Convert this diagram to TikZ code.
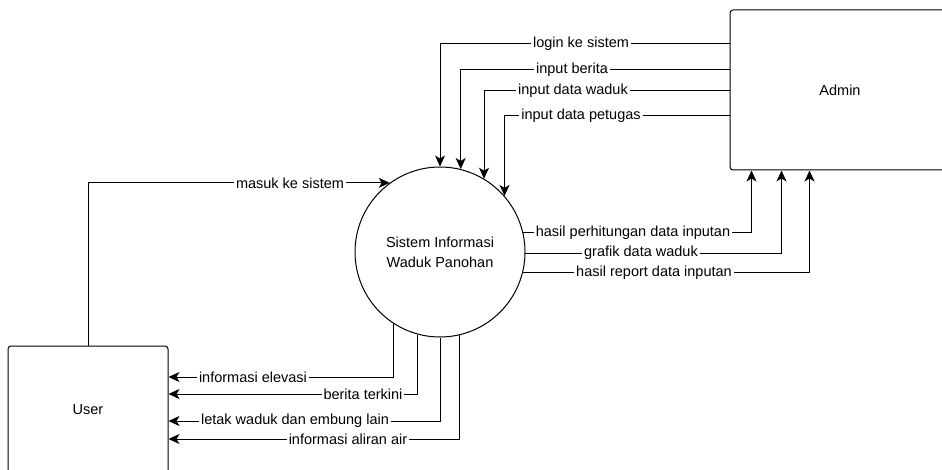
\documentclass[tikz,border=0pt]{standalone}
\usepackage{fontspec}
\setmainfont{Liberation Sans}
\usetikzlibrary{arrows.meta}
\begin{document}
\begin{tikzpicture}[x=1pt,y=-1pt,
  every node/.style={font=\fontsize{14.5}{20}\selectfont},
  flow/.style={draw, line width=1pt, -{Stealth[length=11pt,width=10pt,inset=3pt]}},
  lbl/.style={fill=white, inner xsep=2pt, inner ysep=1pt},
  entity/.style={draw, line width=1pt, rounded corners=3pt, align=center},
  proc/.style={draw, circle, line width=1pt, minimum size=170pt, inner sep=0pt, align=center}]

\useasboundingbox (0,0) rectangle (942,470);
\clip (0,0) rectangle (942,470);

\node[entity, minimum width=220pt, minimum height=160pt] (admin) at (840,90) {Admin};
\node[entity, minimum width=160pt, minimum height=128pt] (user) at (88,410) {User};
\node[proc] (sys) at (440,252) {Sistem Informasi\\Waduk Panohan};

% Admin -> system
\draw[flow] (admin.west |- 0,44) -| (sys.90);
\draw[flow] (admin.west |- 0,70) -| (sys.76);
\draw[flow] (admin.west |- 0,91) -| (sys.59);
\draw[flow] (admin.west |- 0,116) -| (sys.41);

% system -> Admin
\draw[flow] (sys.13) -| ([xshift=22pt]admin.south west);
\draw[flow] (sys.-1) -| ([xshift=52pt]admin.south west);
\draw[flow] (sys.-14) -| ([xshift=80pt]admin.south west);

% User -> system
\draw[flow] (user.north) |- (sys.126);

% system -> User
\draw[flow] (sys.-123) |- (user.east |- 0,377);
\draw[flow] (sys.-105) |- (user.east |- 0,394);
\draw[flow] (sys.-90) |- (user.east |- 0,421);
\draw[flow] (sys.-77) |- (user.east |- 0,439);

% labels
\node[lbl] (l1) at (581,44) {login ke sistem};
\node[lbl] (l2) at (572,70) {input berita};
\node[lbl] (l3) at (573,91) {input data waduk};
\node[lbl] (l4) at (581,116) {input data petugas};
\node[lbl] (l5) at (633,233) {hasil perhitungan data inputan};
\node[lbl] (l6) at (641,253) {grafik data waduk};
\node[lbl] (l7) at (654,273) {hasil report data inputan};
\node[lbl] (l8) at (290,183) {masuk ke sistem};
\node[lbl] (l9) at (253,377) {informasi elevasi};
\node[lbl] (l10) at (363,394) {berita terkini};
\node[lbl] (l11) at (295,421) {letak waduk dan embung lain};
\node[lbl] (l12) at (348,439) {informasi aliran air};
\end{tikzpicture}
\end{document}
